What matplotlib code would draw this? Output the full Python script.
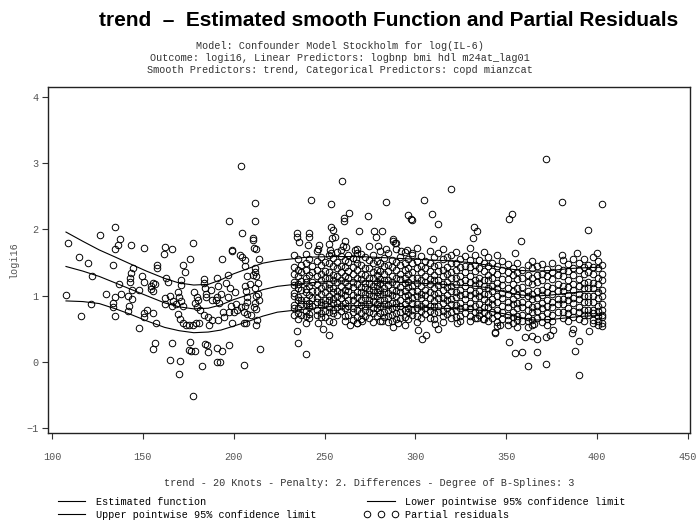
import matplotlib
matplotlib.use("Agg")
import matplotlib.pyplot as plt
from matplotlib.lines import Line2D

# smooth fit and pointwise 95% limits
fit_x = [107.7, 117, 126, 135, 143, 152, 162, 170, 178, 186, 193, 200, 209, 216, 224,
         240, 255, 270, 285, 300, 315, 330, 340, 350, 358, 365, 375, 385, 393, 402]
fit_est = [1.44, 1.37, 1.29, 1.19, 1.10, 1.00, 0.89, 0.83, 0.80, 0.81, 0.86, 0.94, 1.02, 1.09, 1.14,
           1.19, 1.22, 1.22, 1.21, 1.19, 1.17, 1.15, 1.12, 1.05, 1.01, 0.99, 1.01, 1.04, 1.06, 1.07]
fit_upper = [1.96, 1.82, 1.69, 1.58, 1.48, 1.37, 1.26, 1.19, 1.16, 1.17, 1.24, 1.33, 1.42, 1.49, 1.53,
             1.58, 1.59, 1.59, 1.57, 1.55, 1.53, 1.50, 1.46, 1.41, 1.38, 1.37, 1.38, 1.41, 1.42, 1.43]
fit_lower = [0.92, 0.91, 0.88, 0.80, 0.72, 0.62, 0.52, 0.47, 0.44, 0.45, 0.48, 0.54, 0.62, 0.69, 0.75,
             0.80, 0.84, 0.85, 0.84, 0.83, 0.81, 0.79, 0.77, 0.72, 0.67, 0.63, 0.64, 0.67, 0.69, 0.70]

# partial residuals, sparse early part (x < 232)
early_x = [108.6, 107.7, 114.9, 119.6, 121.8, 115.8, 121.5, 126.6, 134.7, 137.6, 136.5, 134.8, 143.6,
           150.8, 133.7, 129.7, 134.8, 133.7, 133.7, 134.8, 136.9, 137.8, 141.7, 143.3, 144.8, 142.9,
           143.1, 144.2, 144.0, 142.4, 142.0, 148.0, 149.7, 150.8, 147.9, 155.8, 154.5, 156.5, 155.8,
           154.3, 157.6, 157.6, 152.1, 150.8, 150.8, 155.8, 157.1, 156.7, 155.8, 161.6, 162.0, 162.4,
           162.2, 165.9, 162.7, 176.0, 177.8, 171.9, 173.2, 165.9, 164.9, 170.4, 169.9, 177.8,
           203.8, 211.7, 197.6, 211.7, 204.7, 210.8, 210.8, 211.3, 212.2, 193.7, 198.9, 198.9, 203.5,
           204.7, 206.2, 206.2, 213.9, 211.7, 211.7, 210.5, 163.8, 171.0, 171.0,
           183.7, 183.7, 184.3, 185.0, 184.5, 190.8, 191.3, 190.8, 190.0, 191.8,
           196.9, 196.0, 197.8, 196.9, 198.7, 207.2, 206.2, 206.8, 207.2, 207.2, 206.2,
           212.3, 213.2, 211.9, 213.2, 212.3, 213.7, 211.9, 169.3, 169.8, 170.8, 168.5, 172.2,
           178.4, 179.7, 180.4, 178.8, 180.0, 164.9, 166.7, 165.8, 181.5, 183.4,
           169.3, 170.2, 172.0, 173.8, 175.6, 177.4, 179.2, 181.0, 185.6, 186.5, 188.3, 191.1, 194.7,
           197.4, 200.2, 202.0, 203.8, 205.6, 207.4, 211.1, 212.3, 199.3, 205.6, 206.5, 212.0, 213.0,
           176.0, 175.5, 176.6, 178.8, 184.3, 185.2, 186.1, 190.6, 193.7, 197.4,
           182.7, 190.6, 192.4, 205.7, 214.5, 187.5, 188.2, 193.0, 194.0, 200.8, 201.5, 209.0, 209.6]
early_y = [1.80, 1.01, 1.59, 1.49, 1.30, 0.69, 0.87, 1.92, 2.03, 1.85, 1.77, 1.70, 1.77,
           1.72, 1.47, 1.03, 0.98, 0.89, 0.83, 0.69, 1.18, 1.02, 1.00, 1.34, 1.41, 1.26,
           1.21, 1.08, 0.95, 0.85, 0.77, 0.51, 1.30, 1.20, 1.08, 1.19, 1.14, 1.17, 1.07,
           1.10, 1.46, 1.41, 0.78, 0.73, 0.68, 0.73, 0.59, 0.29, 0.20, 1.63, 0.96, 0.88,
           1.74, 1.70, 1.26, 1.55, 1.80, 1.46, 1.36, 0.28, 0.03, 0.01, -0.18, -0.52,
           2.96, 2.40, 2.13, 2.12, 1.95, 1.87, 1.84, 1.72, 1.70, 1.56, 1.69, 1.67, 1.62,
           1.59, 1.54, 1.44, 1.56, 1.42, 1.35, 1.31, 1.21, 1.24, 1.16,
           1.25, 1.19, 1.12, 1.03, 0.98, 1.26, 1.14, 0.98, 0.94, 0.89,
           1.31, 1.19, 1.11, 0.98, 0.84, 1.30, 1.14, 1.07, 0.98, 0.91, 0.85,
           1.29, 1.19, 1.12, 1.03, 1.00, 0.94, 0.89, 1.05, 0.98, 0.92, 0.88, 0.84,
           1.06, 0.98, 0.94, 0.89, 0.83, 0.99, 0.92, 0.84, 0.78, 0.71,
           0.72, 0.65, 0.58, 0.56, 0.56, 0.56, 0.58, 0.58, 0.68, 0.56, 0.63, 0.63, 0.68,
           0.75, 0.75, 0.78, 0.83, 0.75, 0.72, 0.83, 0.80, 0.58, 0.58, 0.58, 0.56, 0.63,
           0.30, 0.18, 0.16, 0.16, 0.27, 0.25, 0.15, 0.21, 0.17, 0.25,
           -0.07, -0.01, -0.01, -0.05, 0.20, 1.08, 0.93, 1.02, 0.75, 1.05, 0.88, 1.17, 0.70]

# partial residuals, outlying points of the dense part (x >= 232)
late_x = [259.8, 242.5, 253.5, 283.6, 263.5, 260.9, 260.9, 273.7, 295.7, 297.6,
          234.8, 234.8, 236.0, 241.4, 241.4, 241.0, 246.4, 246.9, 253.5, 254.8, 253.9, 255.7,
          253.0, 253.5, 260.2, 261.6, 259.3, 268.8, 267.0, 267.9, 267.4, 277.4, 281.4, 278.4,
          283.9, 279.4, 287.6, 289.5, 292.2, 295.5, 297.9,
          304.9, 319.6, 297.9, 308.9, 312.6, 332.4, 333.7, 331.5, 309.9, 287.8, 288.8,
          371.9, 380.8, 402.9, 394.8, 353.0, 351.7, 357.9, 354.8, 380.8, 388.8, 399.8,
          234.7, 235.6, 239.6, 252.6, 249.0, 246.6, 239.8, 264.0, 267.9, 270.8, 281.4,
          303.5, 305.7, 301.6, 312.6, 310.8, 287.8, 290.6, 322.7, 333.7, 337.4, 343.8,
          351.7, 354.8, 358.8, 361.8, 366.7, 366.7, 371.9, 371.7, 374.1, 375.9, 386.0, 386.9,
          387.8, 390.0, 389.9, 395.7, 343.8, 344.7, 346.6, 360.3, 364.3, 365.3]
late_y = [2.73, 2.44, 2.38, 2.41, 2.25, 2.17, 2.12, 2.21, 2.22, 2.15,
          1.94, 1.88, 1.81, 1.94, 1.88, 1.76, 1.71, 1.76, 2.03, 1.99, 1.87, 1.88,
          1.69, 1.64, 1.75, 1.73, 1.69, 1.97, 1.69, 1.64, 1.56, 1.97, 1.97, 1.88,
          1.71, 1.75, 1.85, 1.80, 1.67, 1.69, 1.64,
          2.45, 2.61, 2.14, 2.24, 2.08, 2.03, 1.97, 1.87, 1.85, 1.83, 1.80,
          3.07, 2.41, 2.39, 1.99, 2.24, 2.15, 1.82, 1.65, 1.61, 1.65, 1.64,
          0.47, 0.28, 0.12, 0.40, 0.49, 0.58, 0.58, 0.56, 0.58, 0.61, 0.62,
          0.35, 0.40, 0.48, 0.49, 0.57, 0.53, 0.58, 0.58, 0.66, 0.64, 0.45,
          0.30, 0.14, 0.15, -0.07, 0.15, 0.34, -0.04, 0.38, 0.41, 0.48, 0.44, 0.49,
          0.16, 0.32, -0.20, 0.47, 0.44, 0.54, 0.56, 0.38, 0.39, 0.57]

# partial residuals, dense part: one list of values per day column
band_x = [233.4, 235.3, 237.1, 239.6, 241.7, 243.2, 246.1, 248.2, 250.4, 252.6, 254.4, 256.7,
          259.1, 261.2, 263.0, 265.8, 268.1, 270.2, 272.4, 274.6, 276.4, 278.7, 280.5, 282.6,
          285.1, 287.2, 289.4, 291.6, 294.1, 296.0, 298.2, 300.9, 303.1, 305.2, 307.8, 310.1,
          312.3, 314.9, 317.2, 319.4, 322.6, 324.4, 327.1, 330.3, 332.6, 335.1, 337.9, 340.2,
          342.1, 344.9, 347.6, 350.8, 353.6, 356.1, 358.4, 362.2, 364.4, 366.7, 369.8, 372.6,
          375.1, 378.2, 381.4, 384.1, 386.6, 389.8, 392.6, 395.2, 397.9, 400.3, 402.6]
band_y = [
    [1.61, 1.43, 1.33, 1.20, 1.16, 1.04, 0.99, 0.86, 0.81, 0.71],
    [1.55, 1.38, 1.29, 1.17, 1.11, 0.98, 0.93, 0.82, 0.74, 0.64],
    [1.47, 1.36, 1.22, 1.09, 0.94, 0.87, 0.70],
    [1.63, 1.49, 1.39, 1.26, 1.21, 1.10, 1.05, 0.93, 0.88, 0.77, 0.69],
    [1.56, 1.31, 1.15, 1.01, 0.89, 0.83, 0.72, 0.66],
    [1.44, 1.36, 1.21, 1.07, 0.97, 0.84],
    [1.67, 1.53, 1.39, 1.29, 1.17, 1.07, 0.97, 0.91, 0.79, 0.70],
    [1.59, 1.47, 1.32, 1.23, 1.11, 1.03, 0.91, 0.86, 0.74, 0.67],
    [1.51, 1.37, 1.26, 1.14, 1.06, 0.94, 0.88, 0.77, 0.68],
    [1.78, 1.61, 1.49, 1.35, 1.27, 1.17, 1.11, 0.99, 0.93, 0.83, 0.75, 0.62],
    [1.57, 1.45, 1.31, 1.23, 1.12, 1.05, 0.95, 0.89, 0.79, 0.73, 0.60],
    [1.66, 1.51, 1.41, 1.29, 1.21, 1.07, 0.99, 0.89, 0.83, 0.70],
    [1.60, 1.44, 1.35, 1.23, 1.15, 1.04, 0.97, 0.85, 0.77],
    [1.82, 1.54, 1.43, 1.29, 1.21, 1.09, 1.01, 0.89, 0.81, 0.69, 0.62],
    [1.62, 1.51, 1.37, 1.27, 1.15, 1.07, 0.93, 0.85, 0.71],
    [1.57, 1.43, 1.33, 1.21, 1.13, 1.01, 0.93, 0.81, 0.75, 0.63],
    [1.70, 1.49, 1.39, 1.26, 1.18, 1.06, 0.98, 0.87, 0.79, 0.67, 0.58],
    [1.63, 1.47, 1.33, 1.25, 1.13, 1.05, 0.93, 0.86, 0.73, 0.64],
    [1.58, 1.41, 1.31, 1.19, 1.13, 1.03, 0.96, 0.85, 0.79, 0.69],
    [1.75, 1.54, 1.41, 1.27, 1.19, 1.09, 1.03, 0.93, 0.87, 0.75, 0.66],
    [1.61, 1.49, 1.35, 1.27, 1.15, 1.09, 0.99, 0.92, 0.81, 0.73, 0.60],
    [1.52, 1.39, 1.31, 1.21, 1.15, 1.05, 0.99, 0.88, 0.81, 0.69],
    [1.68, 1.49, 1.37, 1.25, 1.19, 1.09, 1.03, 0.93, 0.85, 0.73, 0.62],
    [1.57, 1.45, 1.32, 1.24, 1.12, 1.05, 0.94, 0.87, 0.76, 0.68],
    [1.65, 1.47, 1.37, 1.24, 1.16, 1.04, 0.97, 0.86, 0.79, 0.69, 0.60],
    [1.54, 1.43, 1.29, 1.21, 1.09, 1.01, 0.89, 0.81, 0.71, 0.62],
    [1.70, 1.51, 1.39, 1.26, 1.18, 1.07, 1.00, 0.89, 0.83, 0.73, 0.64],
    [1.59, 1.47, 1.33, 1.25, 1.13, 1.05, 0.93, 0.85, 0.75, 0.66],
    [1.66, 1.49, 1.39, 1.27, 1.19, 1.07, 0.99, 0.87, 0.79, 0.67, 0.56],
    [1.56, 1.41, 1.33, 1.21, 1.13, 1.01, 0.93, 0.82, 0.75, 0.64],
    [1.62, 1.49, 1.35, 1.27, 1.15, 1.07, 0.96, 0.89, 0.78, 0.70],
    [1.72, 1.53, 1.41, 1.27, 1.19, 1.07, 0.99, 0.88, 0.81, 0.69, 0.60],
    [1.60, 1.45, 1.35, 1.23, 1.15, 1.03, 0.96, 0.85, 0.77, 0.66],
    [1.52, 1.41, 1.29, 1.21, 1.09, 1.01, 0.89, 0.81, 0.72],
    [1.68, 1.49, 1.37, 1.25, 1.17, 1.05, 0.97, 0.85, 0.77, 0.66],
    [1.58, 1.45, 1.31, 1.23, 1.11, 1.03, 0.92, 0.85, 0.73, 0.64],
    [1.64, 1.47, 1.37, 1.24, 1.16, 1.04, 0.96, 0.84, 0.75],
    [1.70, 1.55, 1.39, 1.29, 1.17, 1.09, 0.97, 0.89, 0.77, 0.69, 0.60],
    [1.58, 1.43, 1.33, 1.21, 1.13, 1.01, 0.93, 0.81, 0.72],
    [1.62, 1.49, 1.35, 1.27, 1.15, 1.07, 0.95, 0.87, 0.75, 0.66],
    [1.66, 1.49, 1.39, 1.26, 1.18, 1.06, 0.98, 0.86, 0.78, 0.67],
    [1.56, 1.43, 1.29, 1.21, 1.09, 1.01, 0.89, 0.81, 0.69, 0.62],
    [1.60, 1.45, 1.35, 1.23, 1.15, 1.03, 0.95, 0.83, 0.74],
    [1.72, 1.54, 1.43, 1.29, 1.21, 1.09, 1.01, 0.89, 0.81, 0.69, 0.62],
    [1.62, 1.47, 1.37, 1.24, 1.16, 1.04, 0.96, 0.84, 0.76, 0.66],
    [1.54, 1.41, 1.27, 1.19, 1.07, 0.99, 0.87, 0.79, 0.70],
    [1.66, 1.49, 1.37, 1.23, 1.15, 1.03, 0.95, 0.83, 0.75, 0.64],
    [1.58, 1.45, 1.31, 1.23, 1.11, 1.03, 0.91, 0.83, 0.71, 0.62],
    [1.50, 1.37, 1.27, 1.15, 1.07, 0.95, 0.87, 0.75, 0.66],
    [1.62, 1.45, 1.33, 1.19, 1.11, 0.99, 0.91, 0.79, 0.71, 0.60],
    [1.52, 1.39, 1.25, 1.16, 1.04, 0.96, 0.84, 0.76, 0.65],
    [1.48, 1.35, 1.25, 1.11, 1.03, 0.91, 0.83, 0.71, 0.63, 0.55],
    [1.42, 1.31, 1.17, 1.07, 0.95, 0.87, 0.75, 0.67, 0.58],
    [1.50, 1.35, 1.25, 1.11, 1.01, 0.89, 0.81, 0.69, 0.63, 0.52],
    [1.38, 1.27, 1.13, 1.03, 0.91, 0.83, 0.71, 0.62],
    [1.46, 1.31, 1.21, 1.07, 0.99, 0.87, 0.79, 0.67, 0.61, 0.52],
    [1.52, 1.41, 1.27, 1.17, 1.03, 0.95, 0.83, 0.75, 0.63, 0.56],
    [1.44, 1.31, 1.21, 1.07, 0.97, 0.85, 0.77, 0.66],
    [1.48, 1.33, 1.23, 1.09, 1.01, 0.89, 0.81, 0.69, 0.60],
    [1.40, 1.29, 1.15, 1.05, 0.93, 0.85, 0.73, 0.65, 0.56],
    [1.50, 1.35, 1.25, 1.11, 1.03, 0.91, 0.83, 0.71, 0.62],
    [1.42, 1.31, 1.17, 1.07, 0.95, 0.87, 0.76],
    [1.54, 1.39, 1.29, 1.15, 1.07, 0.95, 0.87, 0.75, 0.66],
    [1.48, 1.37, 1.23, 1.13, 1.01, 0.93, 0.81, 0.73, 0.62],
    [1.56, 1.41, 1.31, 1.17, 1.09, 0.97, 0.89, 0.77, 0.68],
    [1.50, 1.39, 1.25, 1.15, 1.03, 0.95, 0.83, 0.75, 0.64],
    [1.56, 1.43, 1.33, 1.19, 1.11, 0.99, 0.91, 0.79, 0.71, 0.62],
    [1.46, 1.35, 1.21, 1.11, 0.99, 0.91, 0.79, 0.70],
    [1.58, 1.43, 1.33, 1.19, 1.11, 0.99, 0.91, 0.79, 0.73, 0.63, 0.58],
    [1.52, 1.41, 1.27, 1.17, 1.05, 0.97, 0.85, 0.77, 0.69, 0.62, 0.56],
    [1.46, 1.33, 1.23, 1.09, 0.99, 0.87, 0.79, 0.71, 0.67, 0.58, 0.54],
]

title = "trend  \u2013  Estimated smooth Function and Partial Residuals"
subtitle = ["Model: Confounder Model Stockholm for log(IL-6)",
            "Outcome: logi16, Linear Predictors: logbnp bmi hdl m24at_lag01",
            "Smooth Predictors: trend, Categorical Predictors: copd mianzcat"]
xlabel = "trend - 20 Knots - Penalty: 2. Differences - Degree of B-Splines: 3"
ylabel = "logi16"
xticks = [100, 150, 200, 250, 300, 350, 400, 450]
yticks = [-1, 0, 1, 2, 3, 4]

mono = "Liberation Mono"
fs = 7.3

# gather residual points
res_x = list(early_x) + list(late_x)
res_y = list(early_y) + list(late_y)
for bx, col in zip(band_x, band_y):
    res_x += [bx] * len(col)
    res_y += col

fig = plt.figure(figsize=(6.97, 5.23), dpi=100)
ax = fig.add_axes([48 / 697, 90 / 523, 642 / 697, 346 / 523])

ax.plot(res_x, res_y, linestyle="none", marker="o", ms=4.7, mfc="none",
        mec="black", mew=0.7)
ax.plot(fit_x, fit_est, color="black", lw=0.8)
ax.plot(fit_x, fit_upper, color="black", lw=0.8)
ax.plot(fit_x, fit_lower, color="black", lw=0.8)

ax.set_xlim(97.8, 451.1)
ax.set_ylim(-1.075, 4.151)
ax.set_xticks(xticks)
ax.set_yticks(yticks)
ax.tick_params(direction="out", length=4, width=0.8, color="#333333",
               labelsize=fs, labelcolor="#555555", pad=10)
for lab in ax.get_xticklabels() + ax.get_yticklabels():
    lab.set_family(mono)
ax.tick_params(axis="y", pad=3)
for sp in ax.spines.values():
    sp.set_linewidth(1.0)
    sp.set_color("#222222")

ax.set_xlabel(xlabel, family=mono, fontsize=fs, color="#333333", labelpad=11)
ax.set_ylabel(ylabel, family=mono, fontsize=fs, color="#555555", labelpad=5)

fig.text(389 / 697, 1 - 21 / 523, title, ha="center", va="center",
         family="Liberation Sans", weight="bold", fontsize=15.0)
for i, line in enumerate(subtitle):
    fig.text(340 / 697, 1 - (46 + 12 * i) / 523, line, ha="center", va="center",
             family=mono, fontsize=fs, color="#333333")

handles = [
    Line2D([], [], color="black", lw=0.8),
    Line2D([], [], color="black", lw=0.8),
    Line2D([], [], color="black", lw=0.8),
    Line2D([], [], linestyle="none", marker="o", ms=4.7, mfc="none",
           mec="black", mew=0.7),
]
labels = ["Estimated function", "Upper pointwise 95% confidence limit",
          "Lower pointwise 95% confidence limit", "Partial residuals"]
fig.legend(handles, labels, ncol=2, loc="upper left",
           bbox_to_anchor=(55 / 697, 1 - 497 / 523), frameon=False,
           prop={"family": mono, "size": fs}, handlelength=3.3,
           handletextpad=0.75, columnspacing=4.7, labelspacing=0.25,
           numpoints=3, borderaxespad=0, borderpad=0)

fig.savefig("out.png", dpi=100)
